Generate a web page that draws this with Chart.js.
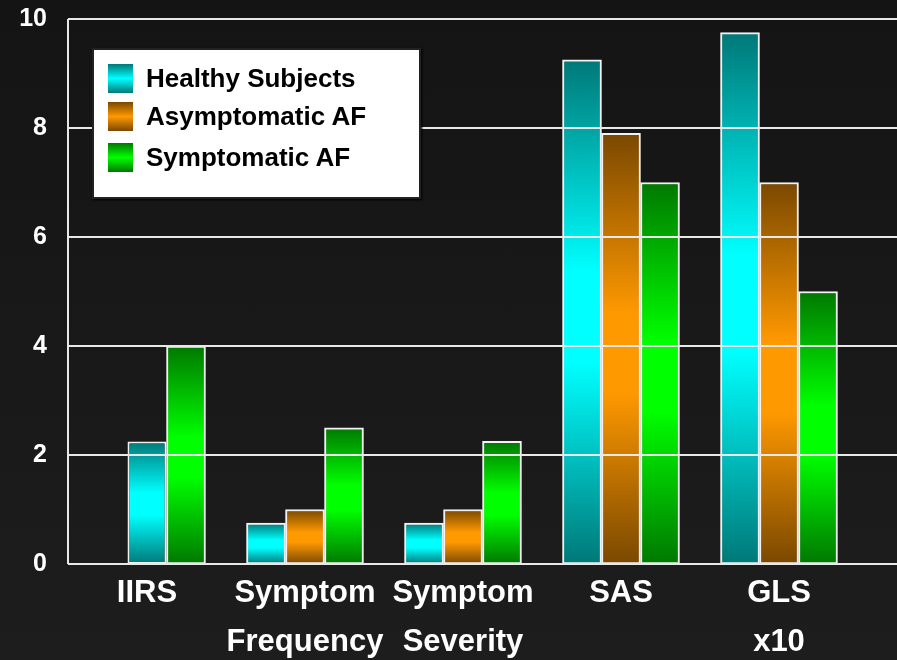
<!DOCTYPE html>
<html>
<head>
<meta charset="utf-8">
<script src="https://cdn.jsdelivr.net/npm/chart.js@4.4.1/dist/chart.umd.min.js"></script>
<style>
    html, body { margin: 0; padding: 0; }
    body { width: 897px; height: 660px; overflow: hidden; background: linear-gradient(#141414, #1d1d1d); font-family: "Liberation Sans", Arial, sans-serif; }
    #wrap { position: relative; width: 897px; height: 660px; }
    #legendBox { position: absolute; left: 92px; top: 48px; width: 325px; height: 147px; background: #fff; border: 2px solid #222; box-shadow: 1px 1px 2px #000; }
    .item { position: absolute; left: 14px; height: 39px; display: flex; align-items: center; font-weight: bold; font-size: 26px; color: #000; white-space: nowrap; }
    .swatch { width: 25px; height: 29px; margin-right: 13px; }
</style>
</head>
<body>
<div id="wrap">
    <canvas id="effectChart" width="897" height="660"></canvas>
    <div id="legendBox"></div>
</div>
<script>
// values
var categories = [['IIRS'], ['Symptom', 'Frequency'], ['Symptom', 'Severity'], ['SAS'], ['GLS', 'x10']];
var healthy = [2.25, 0.75, 0.75, 9.25, 9.75];
var asymptomatic = [null, 1, 1, 7.9, 7];
var symptomatic = [4, 2.5, 2.25, 7, 5];
var yTicks = [0, 2, 4, 6, 8, 10];

var seriesNames = ['Healthy Subjects', 'Asymptomatic AF', 'Symptomatic AF'];
var darkColors = ['#007878', '#7a4800', '#007800'];
var brightColors = ['#00ffff', '#ff9900', '#00ff00'];

function barFill(k) {
    return function(ctx) {
        var chart = ctx.chart;
        if (ctx.type !== 'data' || !chart.chartArea || ctx.raw == null) return brightColors[k];
        var y = chart.scales.y;
        var top = y.getPixelForValue(ctx.raw);
        var base = y.getPixelForValue(0);
        var g = chart.ctx.createLinearGradient(0, top, 0, base);
        g.addColorStop(0, darkColors[k]);
        g.addColorStop(0.42, brightColors[k]);
        g.addColorStop(0.6, brightColors[k]);
        g.addColorStop(1, darkColors[k]);
        return g;
    };
}

// where a group has no asymptomatic bar the healthy bar sits in the middle slot
var healthyGrouped = healthy.map(function(v, i) { return asymptomatic[i] == null ? null : v; });
var healthyCentre = healthy.map(function(v, i) { return asymptomatic[i] == null ? v : null; });

function barSet(label, data, k, extra) {
    var ds = {
        label: label,
        data: data,
        backgroundColor: barFill(k),
        borderColor: '#f2f2f2',
        borderWidth: 2,
        borderSkipped: false,
        barThickness: 39,
        maxBarThickness: 39
    };
    for (var key in extra) ds[key] = extra[key];
    return ds;
}

var gridOverlay = {
    id: 'gridOverlay',
    afterDatasetsDraw: function(chart) {
        var ctx = chart.ctx, y = chart.scales.y, area = chart.chartArea;
        ctx.save();
        ctx.strokeStyle = '#e8e8e8';
        ctx.lineWidth = 2;
        y.ticks.forEach(function(t) {
            var py = Math.round(y.getPixelForValue(t.value));
            ctx.beginPath();
            ctx.moveTo(area.left, py);
            ctx.lineTo(chart.width, py);
            ctx.stroke();
        });
        ctx.beginPath();
        ctx.moveTo(area.left, area.top);
        ctx.lineTo(area.left, area.bottom);
        ctx.stroke();
        ctx.restore();
    }
};

var FONT = '"Liberation Sans", Arial, sans-serif';

new Chart(document.getElementById('effectChart'), {
    type: 'bar',
    data: {
        labels: categories,
        datasets: [
            barSet(seriesNames[0], healthyGrouped, 0),
            barSet(seriesNames[1], asymptomatic, 1),
            barSet(seriesNames[2], symptomatic, 2),
            barSet(seriesNames[0], healthyCentre, 0, { grouped: false, barThickness: undefined })
        ]
    },
    options: {
        responsive: false,
        animation: false,
        layout: { padding: { top: 19, right: 39, bottom: 0, left: 0 } },
        plugins: { legend: { display: false }, tooltip: { enabled: false } },
        scales: {
            x: {
                grid: { display: false, drawTicks: false },
                border: { display: false },
                ticks: { color: '#ffffff', font: { family: FONT, size: 31, weight: 'bold', lineHeight: 1.58 }, padding: 5, maxRotation: 0, autoSkip: false },
                afterFit: function(s) { s.height = 96; }
            },
            y: {
                min: 0,
                max: 10,
                afterBuildTicks: function(s) { s.ticks = yTicks.map(function(v) { return { value: v }; }); },
                grid: { display: false, drawTicks: false },
                border: { display: false },
                ticks: { color: '#ffffff', font: { family: FONT, size: 25, weight: 'bold' }, padding: 21 },
                afterFit: function(s) { s.width = 68; s.paddingTop = 0; s.paddingBottom = 0; }
            }
        }
    },
    plugins: [gridOverlay]
});

// legend box drawn as html on top of the grid, like the slide
var box = document.getElementById('legendBox');
var rowTops = [9, 47, 88];
seriesNames.forEach(function(name, k) {
    var row = document.createElement('div');
    row.className = 'item';
    row.style.top = rowTops[k] + 'px';
    row.innerHTML = '<div class="swatch" style="background:linear-gradient(' + darkColors[k] + ',' + brightColors[k] + ' 50%,' + darkColors[k] + ')"></div>' + name;
    box.appendChild(row);
});
</script>
</body>
</html>
